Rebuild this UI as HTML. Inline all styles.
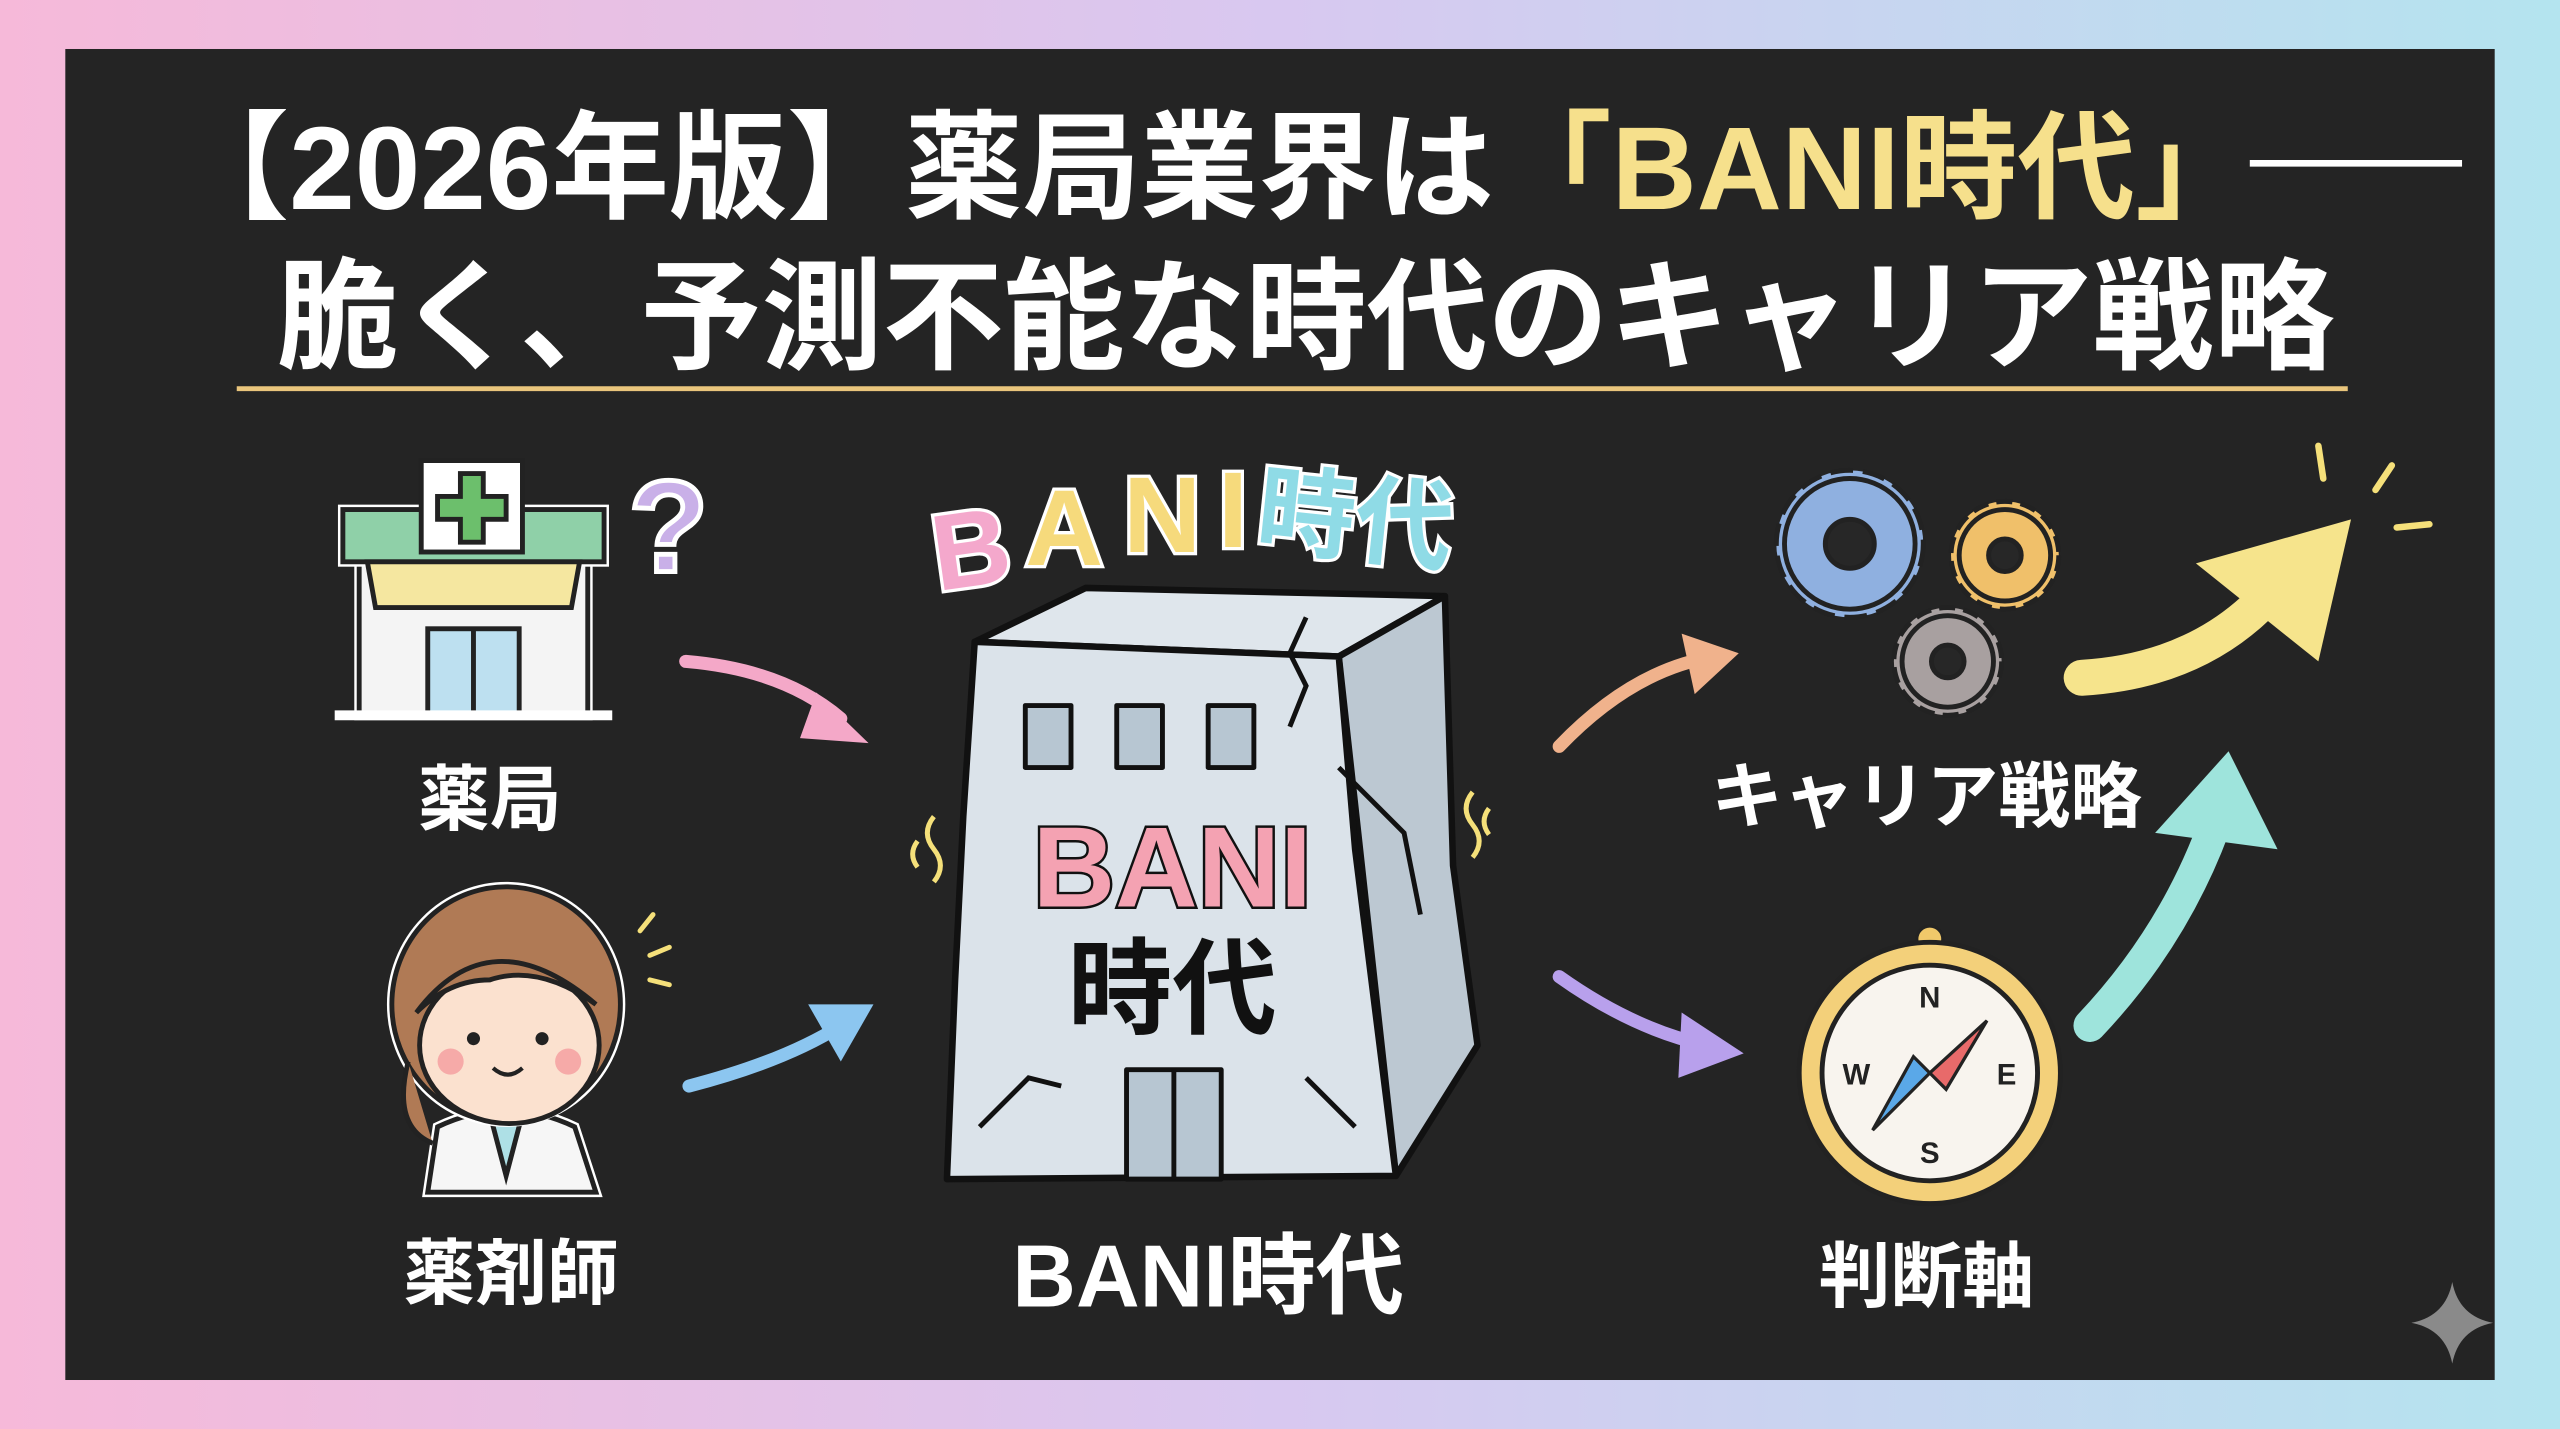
<!DOCTYPE html>
<html><head><meta charset="utf-8"><style>
html,body{margin:0;padding:0;width:2560px;height:1429px;overflow:hidden}
svg{display:block}
text{font-family:"Liberation Sans","Noto Sans CJK JP",sans-serif;font-weight:bold}
</style></head><body>
<svg width="2560" height="1429" viewBox="0 0 1568 875" preserveAspectRatio="none" xmlns="http://www.w3.org/2000/svg">
<defs>
<linearGradient id="bg" x1="0" y1="0" x2="1" y2="0">
<stop offset="0" stop-color="#f6b9d9"/><stop offset="0.5" stop-color="#d8c8f0"/><stop offset="1" stop-color="#b4e4ef"/>
</linearGradient>
</defs>
<rect width="1568" height="875" fill="url(#bg)"/>
<rect x="40" y="30" width="1488" height="815" fill="#242424"/>
<!-- title -->
<text x="105" y="128" font-size="72" fill="#fff" textLength="1275" lengthAdjust="spacingAndGlyphs">【2026年版】薬局業界は<tspan fill="#f6e08c">「BANI時代」</tspan></text>
<line x1="1378" y1="100" x2="1508" y2="100" stroke="#fff" stroke-width="4"/>
<text x="170" y="220" font-size="74" fill="#fff" textLength="1260" lengthAdjust="spacingAndGlyphs">脆く、予測不能な時代のキャリア戦略</text>
<line x1="145" y1="238" x2="1438" y2="238" stroke="#e9c57c" stroke-width="3"/>
<!-- pharmacy -->
<g stroke="#222" stroke-width="3">
<rect x="220" y="340" width="140" height="98" fill="#f4f4f4" stroke="#fff" stroke-width="6"/>
<rect x="220" y="340" width="140" height="98" fill="#f4f4f4"/>
<rect x="210" y="312" width="160" height="32" fill="#8fd0a8" stroke="#fff" stroke-width="6"/>
<rect x="210" y="312" width="160" height="32" fill="#8fd0a8"/>
<rect x="258" y="282" width="62" height="56" fill="#fff"/>
<path d="M282 290h14v14h14v14h-14v14h-14v-14h-14v-14h14z" fill="#6cbf6c"/>
<path d="M225 344 L355 344 L350 372 L230 372 Z" fill="#f5e7a0"/>
<rect x="262" y="385" width="56" height="53" fill="#bde0f0"/>
<line x1="290" y1="385" x2="290" y2="438"/>
<line x1="205" y1="438" x2="375" y2="438" stroke="#fff" stroke-width="6"/>
</g>
<text x="385" y="350" font-size="80" fill="#c9b0e8" stroke="#fff" stroke-width="3" font-family="Liberation Sans">?</text>
<text x="300" y="505" font-size="44" fill="#fff" text-anchor="middle">薬局</text>
<!-- pharmacist -->
<g stroke="#222" stroke-width="3">
<path d="M268 690 Q310 670 352 690 L365 730 L262 730 Z" fill="#f6f6f6" stroke="#fff" stroke-width="6"/>
<path d="M268 690 Q310 670 352 690 L365 730 L262 730 Z" fill="#f6f6f6"/>
<path d="M300 682 L310 720 L320 682 Z" fill="#aee0e6"/>
<ellipse cx="310" cy="615" rx="70" ry="72" fill="#b07a55" stroke="#fff" stroke-width="6"/>
<ellipse cx="310" cy="615" rx="70" ry="72" fill="#b07a55"/>
<path d="M250 650 Q240 690 265 700" fill="#b07a55"/>
<ellipse cx="312" cy="640" rx="55" ry="48" fill="#fbe1cf"/>
<path d="M255 620 Q300 560 365 615 Q330 590 300 600 Q275 600 255 620 Z" fill="#b07a55"/>
</g>
<circle cx="290" cy="636" r="4" fill="#222"/><circle cx="332" cy="636" r="4" fill="#222"/>
<circle cx="276" cy="650" r="8" fill="#f6aaa8"/><circle cx="348" cy="650" r="8" fill="#f6aaa8"/>
<path d="M302 654 Q311 662 320 654" stroke="#222" stroke-width="2.5" fill="none"/>
<g stroke="#f5e07a" stroke-width="3" stroke-linecap="round"><line x1="392" y1="570" x2="400" y2="560"/><line x1="398" y1="585" x2="410" y2="580"/><line x1="398" y1="600" x2="410" y2="603"/></g>
<text x="313" y="795" font-size="44" fill="#fff" text-anchor="middle">薬剤師</text>
<!-- arrows left -->
<path d="M420 405 Q480 410 515 440" stroke="#f4a8c8" stroke-width="8" fill="none" stroke-linecap="round"/>
<path d="M500 424 L532 455 L490 452 Z" fill="#f4a8c8"/>
<path d="M422 665 Q480 650 515 628" stroke="#8cc6f0" stroke-width="8" fill="none" stroke-linecap="round"/>
<path d="M495 615 L535 615 L515 650 Z" fill="#8cc6f0"/>
<!-- building -->
<g stroke="#111" stroke-width="4" stroke-linejoin="round">
<path d="M597 393 L665 360 L885 365 L820 402 Z" fill="#dfe6ec"/>
<path d="M820 402 L885 365 L890 530 L905 640 L855 720 Z" fill="#bcc8d2"/>
<path d="M597 393 L820 402 L830 520 L855 720 L580 722 L585 600 L590 500 Z" fill="#dbe3ea"/>
<rect x="628" y="432" width="28" height="38" fill="#b7c6d2" stroke-width="3"/>
<rect x="684" y="432" width="28" height="38" fill="#b7c6d2" stroke-width="3"/>
<rect x="740" y="432" width="28" height="38" fill="#b7c6d2" stroke-width="3"/>
<rect x="690" y="655" width="58" height="67" fill="#b7c6d2" stroke-width="3"/>
<line x1="719" y1="655" x2="719" y2="722" stroke-width="3"/>
</g>
<path d="M800 378 L790 400 L800 420 L790 445 M820 470 L860 510 L870 560 M600 690 L630 660 L650 665 M800 660 L830 690" stroke="#111" stroke-width="3" fill="none"/>
<text x="718" y="555" font-size="70" fill="#f4a2b2" stroke="#111" stroke-width="3" text-anchor="middle" paint-order="stroke">BANI</text>
<text x="718" y="628" font-size="64" fill="#111" text-anchor="middle">時代</text>
<path d="M572 500 q-8 10 0 20 q8 10 0 20 M562 515 q-6 8 0 16" stroke="#f5e07a" stroke-width="3" fill="none"/>
<path d="M902 485 q-8 10 0 20 q8 10 0 20 M912 495 q-6 8 0 16" stroke="#f5e07a" stroke-width="3" fill="none"/>
<g font-size="66" stroke="#fff" stroke-width="4" paint-order="stroke">
<text x="570" y="358" fill="#f4a8cc" transform="rotate(-8 600 330)">B</text>
<text x="628" y="346" fill="#f6da7c">A</text>
<text x="688" y="338" fill="#f6da7c">N</text>
<text x="746" y="335" fill="#f6da7c">I</text>
<text x="770" y="340" font-size="60" fill="#8fdbe6" transform="rotate(6 840 320)">時代</text>
</g>
<text x="740" y="800" font-size="54" fill="#fff" text-anchor="middle">BANI時代</text>
<!-- arrows right -->
<path d="M955 457 Q1000 410 1050 402" stroke="#f0b28c" stroke-width="8" fill="none" stroke-linecap="round"/>
<path d="M1030 388 L1065 400 L1038 425 Z" fill="#f0b28c"/>
<path d="M955 598 Q1000 630 1045 640" stroke="#b8a0ec" stroke-width="8" fill="none" stroke-linecap="round"/>
<path d="M1030 620 L1068 645 L1028 660 Z" fill="#b8a0ec"/>
<!-- gears -->
<g stroke="#222" stroke-width="3">
<circle cx="1133" cy="333" r="45" fill="#8fb0e0" stroke-dasharray="14 6"/>
<circle cx="1133" cy="333" r="40" fill="#8fb0e0"/>
<circle cx="1133" cy="333" r="15" fill="#272727"/>
<circle cx="1228" cy="340" r="33" fill="#f0c06a" stroke-dasharray="10 5"/>
<circle cx="1228" cy="340" r="28" fill="#f0c06a"/>
<circle cx="1228" cy="340" r="10" fill="#272727"/>
<circle cx="1193" cy="405" r="33" fill="#a8a0a0" stroke-dasharray="10 5"/>
<circle cx="1193" cy="405" r="28" fill="#a8a0a0"/>
<circle cx="1193" cy="405" r="10" fill="#272727"/>
</g>
<text x="1180" y="503" font-size="44" fill="#fff" text-anchor="middle">キャリア戦略</text>
<!-- compass -->
<circle cx="1182" cy="575" r="8" fill="#f0c86a" stroke="#222" stroke-width="2"/>
<circle cx="1182" cy="657" r="80" fill="#f3d07a" stroke="#222" stroke-width="3"/>
<circle cx="1182" cy="657" r="66" fill="#f8f4ee" stroke="#222" stroke-width="3"/>
<path d="M1182 657 L1217 625 L1192 667 Z" fill="#e86a6a" stroke="#222" stroke-width="2"/>
<path d="M1182 657 L1147 692 L1172 647 Z" fill="#5aa8e8" stroke="#222" stroke-width="2"/>
<g font-size="18" fill="#222" text-anchor="middle" font-family="Liberation Sans"><text x="1182" y="617">N</text><text x="1182" y="712">S</text><text x="1137" y="664">W</text><text x="1229" y="664">E</text></g>
<text x="1180" y="797" font-size="44" fill="#fff" text-anchor="middle">判断軸</text>
<!-- big arrows -->
<path d="M1275 415 Q1360 410 1405 345" stroke="#f6e48c" stroke-width="22" fill="none" stroke-linecap="round"/>
<path d="M1345 345 L1440 318 L1420 405 Z" fill="#f6e48c"/>
<path d="M1280 628 Q1335 570 1360 495" stroke="#9ee4dc" stroke-width="20" fill="none" stroke-linecap="round"/>
<path d="M1320 510 L1365 460 L1395 520 Z" fill="#9ee4dc"/>
<g stroke="#f5e07a" stroke-width="4" stroke-linecap="round"><line x1="1420" y1="273" x2="1423" y2="293"/><line x1="1465" y1="285" x2="1455" y2="300"/><line x1="1468" y1="323" x2="1488" y2="321"/></g>
<path d="M1502 785 Q1506 806 1527 810 Q1506 814 1502 835 Q1498 814 1477 810 Q1498 806 1502 785 Z" fill="#8a8a8a"/>
</svg>
</body></html>
